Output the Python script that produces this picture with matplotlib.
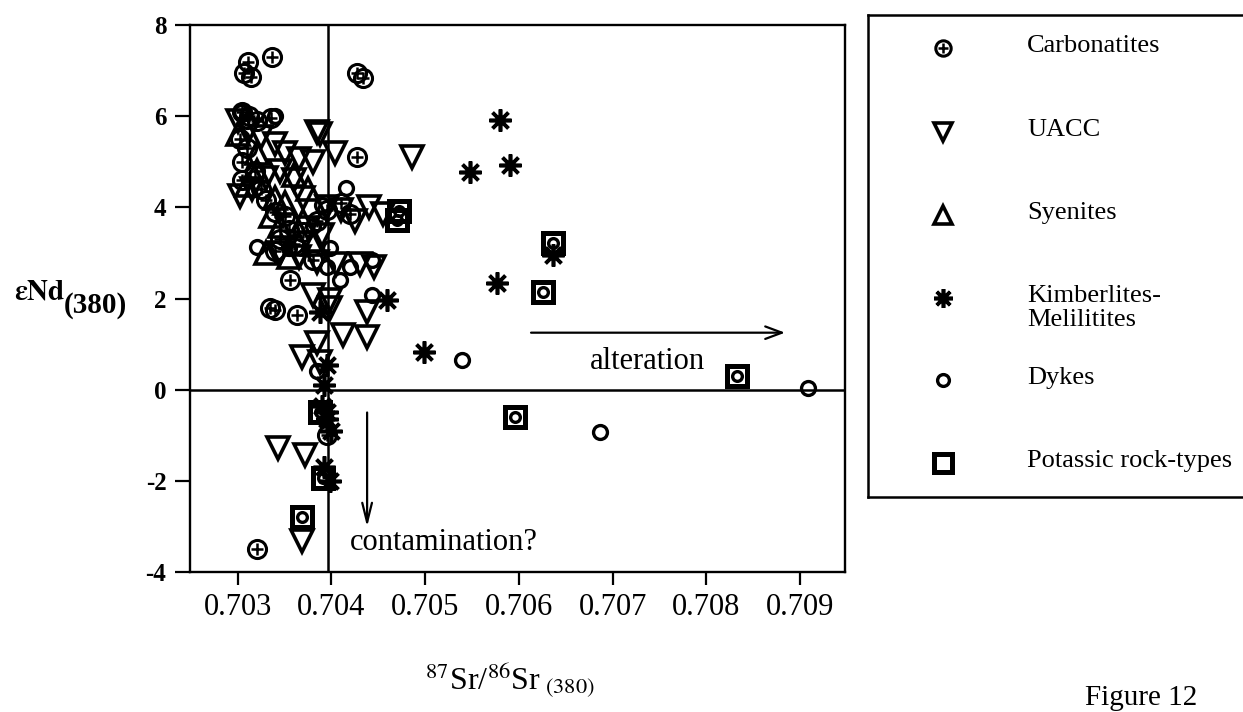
import numpy as np
import matplotlib
matplotlib.use('Agg')
import matplotlib.pyplot as plt
import matplotlib.transforms as mtransforms

plt.rcParams['font.family'] = ['Liberation Serif', 'DejaVu Serif']
plt.rcParams['mathtext.fontset'] = 'stix'

W, H = 1243, 712

# data: (87Sr/86Sr, eNd) for each rock group
carb_x = [0.70311, 0.70337, 0.70307, 0.70314, 0.70427, 0.70434, 0.70427,
          0.70305, 0.70312, 0.70320, 0.70335, 0.70302, 0.70310, 0.70305,
          0.70318, 0.70305, 0.70325, 0.70330, 0.70340, 0.70350, 0.70355,
          0.70345, 0.70360, 0.70340, 0.70370, 0.70385, 0.70395, 0.70410,
          0.70420, 0.70380, 0.70356, 0.70334, 0.70340, 0.70363, 0.70395,
          0.70321]
carb_y = [7.18, 7.30, 6.95, 6.86, 6.95, 6.84, 5.10,
          6.10, 6.00, 5.90, 5.95, 5.50, 5.30, 5.00,
          4.80, 4.60, 4.40, 4.15, 3.90, 3.80, 3.50,
          3.30, 3.20, 3.05, 3.45, 3.70, 3.95, 4.10,
          3.85, 2.85, 2.41, 1.80, 1.75, 1.64, -1.00,
          -3.50]

uacc_x = [0.70300, 0.70312, 0.70325, 0.70340, 0.70350, 0.70365, 0.70302,
          0.70315, 0.70330, 0.70345, 0.70360, 0.70370, 0.70380, 0.70384,
          0.70388, 0.70404, 0.70486, 0.70395, 0.70410, 0.70440, 0.70455,
          0.70425, 0.70375, 0.70390, 0.70385, 0.70405, 0.70430, 0.70445,
          0.70380, 0.70398, 0.70398, 0.70438, 0.70438, 0.70412, 0.70384,
          0.70368, 0.70388, 0.70343, 0.70372, 0.70368, 0.70345, 0.70365]
uacc_y = [5.90, 5.70, 5.55, 5.40, 5.20, 5.05, 4.25,
          4.40, 4.65, 4.80, 4.60, 4.20, 5.00, 5.66,
          5.60, 5.20, 5.10, 4.00, 3.95, 4.00, 3.85,
          3.70, 3.55, 3.40, 2.80, 2.75, 2.75, 2.70,
          2.08, 1.97, 1.80, 1.70, 1.16, 1.20, 1.03,
          0.72, 0.61, -1.27, -1.43, -3.33, 3.00, 2.90]

sye_x = [0.70310, 0.70320, 0.70335, 0.70345, 0.70330, 0.70355, 0.70365,
         0.70320, 0.70340, 0.70370, 0.70360, 0.70300, 0.70375, 0.70350,
         0.70380]
sye_y = [4.50, 4.80, 3.80, 3.60, 3.00, 2.90, 3.20,
         5.20, 4.20, 3.70, 4.70, 5.60, 4.40, 4.10,
         3.20]

kimb_x = [0.70580, 0.70548, 0.70591, 0.70636, 0.70577, 0.70459, 0.70499,
          0.70388, 0.70395, 0.70392, 0.70390, 0.70395, 0.70400, 0.70392,
          0.70398, 0.70395]
kimb_y = [5.92, 4.78, 4.93, 2.95, 2.35, 1.97, 0.83,
          1.70, 0.55, 0.10, -0.35, -0.65, -0.90, -1.70,
          -2.00, -0.50]

dyke_x = [0.70909, 0.70687, 0.70539, 0.70320, 0.70409, 0.70443, 0.70443,
          0.70416, 0.70420, 0.70303, 0.70310, 0.70340, 0.70385, 0.70395,
          0.70355, 0.70380, 0.70390, 0.70398]
dyke_y = [0.04, -0.92, 0.65, 3.14, 2.41, 2.08, 2.85,
          4.43, 2.70, 6.10, 5.90, 6.00, 0.40, 2.70,
          3.10, 3.60, 4.05, 3.10]

pot_x = [0.70472, 0.70470, 0.70636, 0.70626, 0.70596, 0.70833, 0.70388,
         0.70391, 0.70368]
pot_y = [3.92, 3.72, 3.22, 2.15, -0.61, 0.29, -0.50,
         -1.93, -2.80]

xticks = [0.703, 0.704, 0.705, 0.706, 0.707, 0.708, 0.709]
yticks = [-4, -2, 0, 2, 4, 6, 8]
sr_ref = 0.70396   # vertical reference line
nd_ref = 0.0       # horizontal reference line

legend_labels = ['Carbonatites', 'UACC', 'Syenites', 'Kimberlites-\nMelilitites',
                 'Dykes', 'Potassic rock-types']

fig = plt.figure(figsize=(W / 100, H / 100), dpi=100)
pix = mtransforms.Affine2D().scale(1 / W, -1 / H).translate(0, 1) + fig.transFigure

ax = fig.add_axes([190 / W, 1 - 572 / H, (845 - 190) / W, (572 - 25) / H])
ax.set_xlim(0.70249, 0.70948)
ax.set_ylim(-4, 8)

# marker styles per group (used in plot and legend)
k = 'black'
styles = {
    'carb': [dict(marker='o', ms=13, mew=2.2, mfc='none', mec=k),
             dict(marker='+', ms=9, mew=1.8, mec=k)],
    'uacc': [dict(marker='v', ms=16, mew=2.6, mfc='none', mec=k)],
    'sye': [dict(marker='^', ms=16, mew=2.6, mfc='none', mec=k)],
    'kimb': [dict(marker=(8, 2, 0), ms=16, mew=2.6, mec=k)],
    'dyke': [dict(marker='o', ms=10, mew=2.4, mfc='none', mec=k)],
    'pot': [dict(marker='s', ms=15, mew=3.6, mfc='none', mec=k)],
}
groups = [('carb', carb_x, carb_y), ('uacc', uacc_x, uacc_y), ('sye', sye_x, sye_y),
          ('kimb', kimb_x, kimb_y), ('dyke', dyke_x, dyke_y), ('pot', pot_x, pot_y)]

ax.axvline(sr_ref, color=k, lw=1.8, zorder=1)
ax.axhline(nd_ref, color=k, lw=1.8, zorder=1)

for name, xs, ys in groups:
    for st in styles[name]:
        ax.plot(xs, ys, ls='none', clip_on=False, zorder=3, **st)
# potassic samples carry a dyke circle inside the square
ax.plot(pot_x, pot_y, ls='none', marker='o', ms=7, mew=2.4, mfc='none', mec=k, zorder=3)

ax.set_xticks(xticks)
ax.set_xticklabels(['%.3f' % v for v in xticks], fontsize=22)
ax.set_yticks(yticks)
ax.set_yticklabels([str(v) for v in yticks], fontsize=18, fontweight='bold')
ax.tick_params(axis='x', direction='out', length=9, width=1.6, pad=6)
ax.tick_params(axis='y', direction='out', length=11, width=1.6, pad=6)
for s in ax.spines.values():
    s.set_linewidth(1.7)

# arrows and notes
ax.annotate('', xy=(0.70887, 1.25), xytext=(0.70610, 1.25),
            arrowprops=dict(arrowstyle='->,head_length=1.2,head_width=0.45', lw=1.6, color=k))
ax.text(0.70737, 0.61, 'alteration', fontsize=22, ha='center', va='center')
ax.annotate('', xy=(0.70438, -3.07), xytext=(0.70438, -0.44),
            arrowprops=dict(arrowstyle='->,head_length=1.4,head_width=0.35', lw=1.6, color=k))
ax.text(0.70420, -3.36, 'contamination?', fontsize=22, ha='left', va='center')

# axis titles
fig.text(14, 300, r'$\mathbf{\varepsilon Nd}$', transform=pix, fontsize=21, va='baseline')
fig.text(64, 313, '(380)', transform=pix, fontsize=21, fontweight='bold', va='baseline')
fig.text(425, 689, r'$^{87}$Sr/$^{86}$Sr$_{\ (380)}$', transform=pix, fontsize=23, va='baseline')
fig.text(1085, 705, 'Figure 12', transform=pix, fontsize=21, va='baseline')

# legend box, running off the right edge
leg = fig.add_axes([868 / W, 1 - 497 / H, 0.5, (497 - 15) / H])
leg.set_xticks([])
leg.set_yticks([])
for s in leg.spines.values():
    s.set_linewidth(1.8)
row_y = [48, 132, 215, 298, 380, 463]
for (name, _, _), lab, yy in zip(groups, legend_labels, row_y):
    for st in styles[name]:
        st2 = dict(st)
        st2['ms'] = st['ms'] * 0.85
        leg.plot([943], [yy], transform=pix, clip_on=False, ls='none', **st2)
    fig.text(1027, yy - 13, lab, transform=pix, fontsize=19, va='top', linespacing=1.1)

fig.savefig('out.png', dpi=100)
